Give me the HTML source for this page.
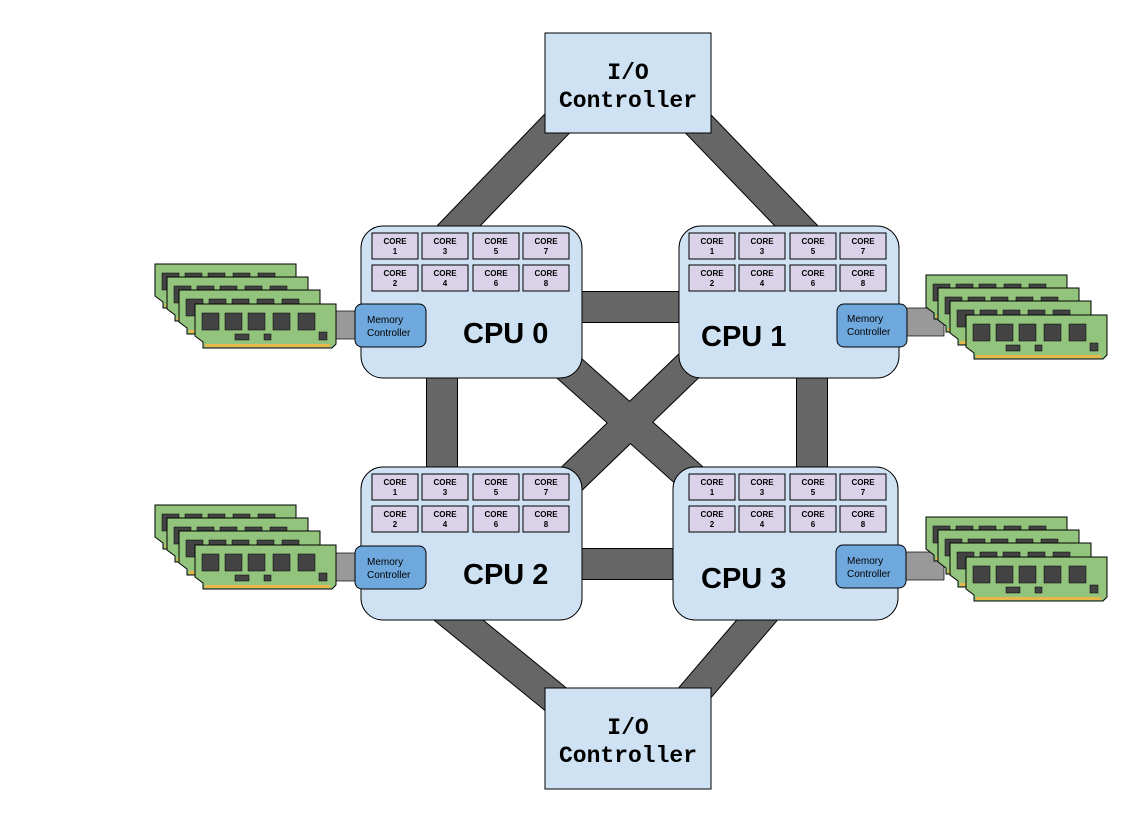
<!DOCTYPE html>
<html><head><meta charset="utf-8"><style>
html,body{margin:0;padding:0;background:#fff;}
svg{display:block;}
.core{fill:#d9d2e9;stroke:#000;stroke-width:1;}
.ct{font-family:"Liberation Sans",sans-serif;font-size:8px;font-weight:bold;text-anchor:middle;}
.cpu{fill:#cfe2f3;stroke:#000;stroke-width:1;}
.mc{fill:#6fa8dc;stroke:#000;stroke-width:1;}
.mt{font-family:"Liberation Sans",sans-serif;font-size:10px;}
.big{font-family:"Liberation Sans",sans-serif;font-size:29px;font-weight:bold;}
.io{font-family:"Liberation Mono",monospace;font-size:23px;font-weight:bold;text-anchor:middle;}
</style></head><body>
<svg width="1124" height="816" viewBox="0 0 1124 816" xmlns="http://www.w3.org/2000/svg">
<defs>
<g id="stick">
<path d="M0,0 H141 V40 L137,44 H8 L8,38 L0,32 Z" fill="#93c47d" stroke="#000" stroke-width="1"/>
<rect x="10" y="40" width="125" height="3" fill="#e6b84a"/>
<g fill="#434343" stroke="#000" stroke-width="0.5">
<rect x="7" y="9" width="17" height="17"/><rect x="30" y="9" width="17" height="17"/>
<rect x="53" y="9" width="17" height="17"/><rect x="78" y="9" width="17" height="17"/>
<rect x="103" y="9" width="17" height="17"/>
<rect x="40" y="30" width="14" height="6"/><rect x="69" y="30" width="7" height="6"/><rect x="124" y="28" width="8" height="8"/>
</g>
</g>
<g id="ramgroup">
<use href="#stick" x="0" y="0"/><use href="#stick" x="12" y="13"/>
<use href="#stick" x="24" y="26"/><use href="#stick" x="40" y="40"/>
</g>
</defs>

<rect x="330" y="311" width="30" height="28" fill="#999" stroke="#000" stroke-width="0.7"/>
<rect x="902" y="308" width="42" height="28" fill="#999" stroke="#000" stroke-width="0.7"/>
<rect x="330" y="553" width="30" height="28" fill="#999" stroke="#000" stroke-width="0.7"/>
<rect x="902" y="552" width="42" height="28" fill="#999" stroke="#000" stroke-width="0.7"/>

<g stroke-linecap="butt">
<g stroke="#000" stroke-width="32">
<line x1="445" y1="240" x2="575" y2="105"/>
<line x1="810" y1="240" x2="680" y2="105"/>
<line x1="440" y1="605" x2="575" y2="715"/>
<line x1="770" y1="605" x2="680" y2="710"/>
<line x1="560" y1="360" x2="700" y2="485"/>
<line x1="700" y1="355" x2="560" y2="490"/>
<line x1="570" y1="307" x2="690" y2="307"/>
<line x1="570" y1="564" x2="690" y2="564"/>
<line x1="442" y1="370" x2="442" y2="475"/>
<line x1="812" y1="370" x2="812" y2="475"/>
</g>
<g stroke="#666" stroke-width="30">
<line x1="445" y1="240" x2="575" y2="105"/>
<line x1="810" y1="240" x2="680" y2="105"/>
<line x1="440" y1="605" x2="575" y2="715"/>
<line x1="770" y1="605" x2="680" y2="710"/>
<line x1="560" y1="360" x2="700" y2="485"/>
<line x1="700" y1="355" x2="560" y2="490"/>
<line x1="570" y1="307" x2="690" y2="307"/>
<line x1="570" y1="564" x2="690" y2="564"/>
<line x1="442" y1="370" x2="442" y2="475"/>
<line x1="812" y1="370" x2="812" y2="475"/>
</g>
</g>

<use href="#ramgroup" x="155" y="264"/>
<use href="#ramgroup" x="926" y="275"/>
<use href="#ramgroup" x="155" y="505"/>
<use href="#ramgroup" x="926" y="517"/>

<rect x="545" y="33" width="166" height="100" fill="#cfe2f3" stroke="#000"/>
<text class="io" x="628" y="79">I/O</text><text class="io" x="628" y="107">Controller</text>
<rect x="545" y="688" width="166" height="101" fill="#cfe2f3" stroke="#000"/>
<text class="io" x="628" y="734">I/O</text><text class="io" x="628" y="762">Controller</text>

<g>
<rect class="cpu" x="361" y="226" width="221" height="152" rx="22"/>
<g transform="translate(372,233)">
<rect class="core" x="0" y="0" width="46" height="26"/><text class="ct" x="23" y="11">CORE</text><text class="ct" x="23" y="21">1</text>
<rect class="core" x="50" y="0" width="46" height="26"/><text class="ct" x="73" y="11">CORE</text><text class="ct" x="73" y="21">3</text>
<rect class="core" x="101" y="0" width="46" height="26"/><text class="ct" x="124" y="11">CORE</text><text class="ct" x="124" y="21">5</text>
<rect class="core" x="151" y="0" width="46" height="26"/><text class="ct" x="174" y="11">CORE</text><text class="ct" x="174" y="21">7</text>
<rect class="core" x="0" y="32" width="46" height="26"/><text class="ct" x="23" y="43">CORE</text><text class="ct" x="23" y="53">2</text>
<rect class="core" x="50" y="32" width="46" height="26"/><text class="ct" x="73" y="43">CORE</text><text class="ct" x="73" y="53">4</text>
<rect class="core" x="101" y="32" width="46" height="26"/><text class="ct" x="124" y="43">CORE</text><text class="ct" x="124" y="53">6</text>
<rect class="core" x="151" y="32" width="46" height="26"/><text class="ct" x="174" y="43">CORE</text><text class="ct" x="174" y="53">8</text>
</g>
<rect class="mc" x="355" y="304" width="71" height="43" rx="7"/>
<text class="mt" x="367" y="323">Memory</text><text class="mt" x="367" y="336">Controller</text>
<text class="big" x="463" y="343">CPU 0</text>
</g>

<g>
<rect class="cpu" x="679" y="226" width="220" height="152" rx="22"/>
<g transform="translate(689,233)">
<rect class="core" x="0" y="0" width="46" height="26"/><text class="ct" x="23" y="11">CORE</text><text class="ct" x="23" y="21">1</text>
<rect class="core" x="50" y="0" width="46" height="26"/><text class="ct" x="73" y="11">CORE</text><text class="ct" x="73" y="21">3</text>
<rect class="core" x="101" y="0" width="46" height="26"/><text class="ct" x="124" y="11">CORE</text><text class="ct" x="124" y="21">5</text>
<rect class="core" x="151" y="0" width="46" height="26"/><text class="ct" x="174" y="11">CORE</text><text class="ct" x="174" y="21">7</text>
<rect class="core" x="0" y="32" width="46" height="26"/><text class="ct" x="23" y="43">CORE</text><text class="ct" x="23" y="53">2</text>
<rect class="core" x="50" y="32" width="46" height="26"/><text class="ct" x="73" y="43">CORE</text><text class="ct" x="73" y="53">4</text>
<rect class="core" x="101" y="32" width="46" height="26"/><text class="ct" x="124" y="43">CORE</text><text class="ct" x="124" y="53">6</text>
<rect class="core" x="151" y="32" width="46" height="26"/><text class="ct" x="174" y="43">CORE</text><text class="ct" x="174" y="53">8</text>
</g>
<rect class="mc" x="837" y="304" width="70" height="43" rx="7"/>
<text class="mt" x="847" y="322">Memory</text><text class="mt" x="847" y="335">Controller</text>
<text class="big" x="701" y="346">CPU 1</text>
</g>

<g>
<rect class="cpu" x="361" y="467" width="221" height="153" rx="22"/>
<g transform="translate(372,474)">
<rect class="core" x="0" y="0" width="46" height="26"/><text class="ct" x="23" y="11">CORE</text><text class="ct" x="23" y="21">1</text>
<rect class="core" x="50" y="0" width="46" height="26"/><text class="ct" x="73" y="11">CORE</text><text class="ct" x="73" y="21">3</text>
<rect class="core" x="101" y="0" width="46" height="26"/><text class="ct" x="124" y="11">CORE</text><text class="ct" x="124" y="21">5</text>
<rect class="core" x="151" y="0" width="46" height="26"/><text class="ct" x="174" y="11">CORE</text><text class="ct" x="174" y="21">7</text>
<rect class="core" x="0" y="32" width="46" height="26"/><text class="ct" x="23" y="43">CORE</text><text class="ct" x="23" y="53">2</text>
<rect class="core" x="50" y="32" width="46" height="26"/><text class="ct" x="73" y="43">CORE</text><text class="ct" x="73" y="53">4</text>
<rect class="core" x="101" y="32" width="46" height="26"/><text class="ct" x="124" y="43">CORE</text><text class="ct" x="124" y="53">6</text>
<rect class="core" x="151" y="32" width="46" height="26"/><text class="ct" x="174" y="43">CORE</text><text class="ct" x="174" y="53">8</text>
</g>
<rect class="mc" x="355" y="546" width="71" height="43" rx="7"/>
<text class="mt" x="367" y="565">Memory</text><text class="mt" x="367" y="578">Controller</text>
<text class="big" x="463" y="584">CPU 2</text>
</g>

<g>
<rect class="cpu" x="673" y="467" width="225" height="153" rx="22"/>
<g transform="translate(689,474)">
<rect class="core" x="0" y="0" width="46" height="26"/><text class="ct" x="23" y="11">CORE</text><text class="ct" x="23" y="21">1</text>
<rect class="core" x="50" y="0" width="46" height="26"/><text class="ct" x="73" y="11">CORE</text><text class="ct" x="73" y="21">3</text>
<rect class="core" x="101" y="0" width="46" height="26"/><text class="ct" x="124" y="11">CORE</text><text class="ct" x="124" y="21">5</text>
<rect class="core" x="151" y="0" width="46" height="26"/><text class="ct" x="174" y="11">CORE</text><text class="ct" x="174" y="21">7</text>
<rect class="core" x="0" y="32" width="46" height="26"/><text class="ct" x="23" y="43">CORE</text><text class="ct" x="23" y="53">2</text>
<rect class="core" x="50" y="32" width="46" height="26"/><text class="ct" x="73" y="43">CORE</text><text class="ct" x="73" y="53">4</text>
<rect class="core" x="101" y="32" width="46" height="26"/><text class="ct" x="124" y="43">CORE</text><text class="ct" x="124" y="53">6</text>
<rect class="core" x="151" y="32" width="46" height="26"/><text class="ct" x="174" y="43">CORE</text><text class="ct" x="174" y="53">8</text>
</g>
<rect class="mc" x="836" y="545" width="70" height="43" rx="7"/>
<text class="mt" x="847" y="564">Memory</text><text class="mt" x="847" y="577">Controller</text>
<text class="big" x="701" y="588">CPU 3</text>
</g>
</svg>
</body></html>
